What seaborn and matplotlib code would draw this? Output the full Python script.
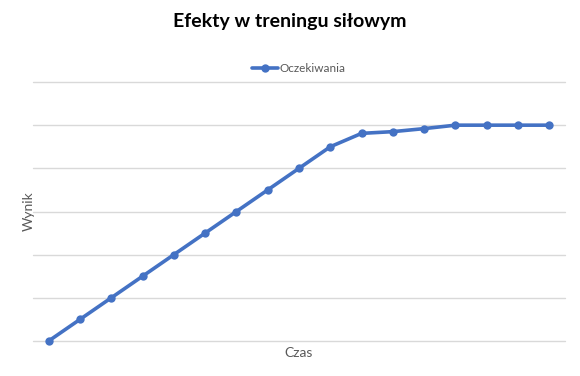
import matplotlib
matplotlib.use("Agg")
import matplotlib.pyplot as plt
import seaborn as sns
import pandas as pd

czas = list(range(17))
wynik = [0, 0.5, 1, 1.5, 2, 2.5, 3, 3.5, 4, 4.5, 4.81, 4.85, 4.92, 5, 5, 5, 5]
series_name = "Oczekiwania"

df = pd.DataFrame({"Czas": czas, "Wynik": wynik, "Seria": series_name})

sns.set_theme(style="white")
plt.rcParams["font.family"] = ["Lato", "DejaVu Sans"]

fig = plt.figure(figsize=(5.8, 3.76), dpi=100)
ax = fig.add_axes([33/580, 1-341/376, (565-33)/580, (341-82)/376])

sns.lineplot(data=df, x="Czas", y="Wynik", hue="Seria", palette=["#4472C4"],
             marker="o", markersize=6, markeredgewidth=0, linewidth=2.6, ax=ax,
             legend=True)
for ln in ax.lines:
    ln.set_clip_on(False)

ax.set_xlim(-0.5, 16.5)
ax.set_ylim(0, 6)
ax.set_yticks(range(7))
ax.set_xticks([])
ax.set_yticklabels([])
ax.tick_params(left=False, bottom=False)
ax.grid(axis="y", color="#D9D9D9", linewidth=1)
ax.set_axisbelow(True)
for s in ax.spines.values():
    s.set_visible(False)
for gl in ax.get_ygridlines():
    gl.set_clip_on(False)

ax.set_xlabel("Czas", fontsize=10, color="#595959", labelpad=4)
ax.set_ylabel("Wynik", fontsize=10, color="#595959")
ax.yaxis.set_label_coords(2/532, 0.5)

leg = ax.legend(loc="center", bbox_to_anchor=(0.5, (341-69)/(341-82)), frameon=False,
                fontsize=8.5, handlelength=2.2, handletextpad=0.1, borderaxespad=0)
for t in leg.get_texts():
    t.set_color("#595959")

fig.suptitle("Efekty w treningu siłowym", x=290/580, y=1-22/376, va="center",
             fontsize=14, fontweight="bold", color="black")

fig.savefig("out.png", dpi=100, facecolor="white")
